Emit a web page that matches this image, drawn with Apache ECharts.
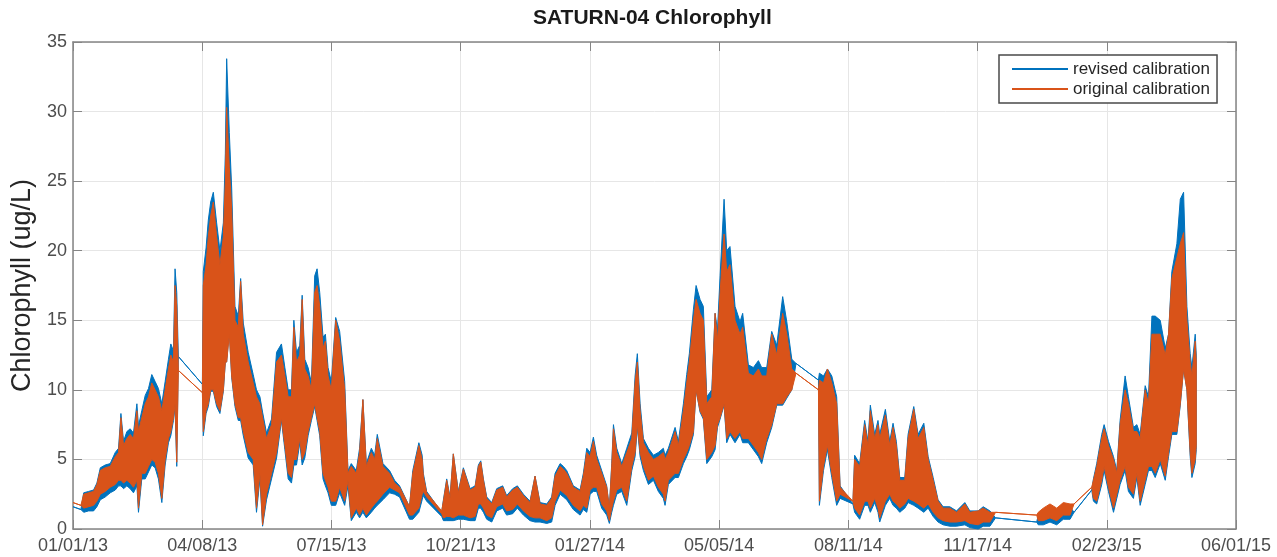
<!DOCTYPE html>
<html><head><meta charset="utf-8">
<script src="https://cdn.jsdelivr.net/npm/echarts@6/dist/echarts.min.js"></script>
<style>html,body{margin:0;padding:0;background:#fff}#c{width:1277px;height:557px}</style>
</head><body><div id="c"></div>
<script>
// x tick labels (ticks evenly spaced from 01/01/13 to 06/01/15)
const tickLabels = ['01/01/13','04/08/13','07/15/13','10/21/13','01/27/14','05/05/14','08/11/14','11/17/14','02/23/15','06/01/15'];
const yTicks = [0,5,10,15,20,25,30,35];

// sample positions: days since 01/01/13
const days = [
0,6,8.1,11.8,15.6,18.1,20.7,24.4,28.2,32,
34.5,36.3,38.3,40.8,43.3,45.8,48.4,49.6,52.1,54.7,
57.2,59.7,62.2,64.7,67.3,69.8,72.3,74.1,76.1,77.3,
78.6,79.8,98,98.7,100.8,102.5,104.3,106.3,108.8,111.3,
113.9,115.4,116.4,118.4,120.2,122.7,125.2,127,129,132.7,
136.5,139,141.6,143.6,146.6,150.4,154.2,157.9,160.5,163,
165.5,167.3,169.3,171.8,173.6,175.6,178.1,180.6,183.1,184.9,
186.9,189.4,191.2,193.2,195.7,199,202,205.8,208.3,210.8,
214.6,217.1,219.6,222.2,226,228.5,230.5,234.8,239.8,243.6,
247.4,254.9,257.4,262,264.5,265.4,267.9,279.3,280.6,283.1,
285.6,288.1,291.9,295.7,300.8,304.6,307.1,308.9,310.9,313.4,
317.2,321,325.5,328.5,333.1,336.6,341.2,346.2,350,353.8,
358.9,362.6,365.2,369,371.5,374,379,384.1,386.6,389.2,
391.7,394.2,396.7,400.5,404.3,406.3,408.1,409.4,411.9,415.7,
419.5,423.3,425.8,427.5,429.6,432.1,435.9,439.7,443.4,447.2,
448.5,451,456.1,458.6,462.4,464.9,466.9,470,472,475,
477.5,480.1,483.9,486.4,488.2,490.2,493.2,495.2,497.7,501.5,
505.3,507.3,511.6,515.4,519.2,521.7,525.5,529.3,533.1,537.6,
540.7,544.5,547.7,564.7,565.4,568.5,571.5,574.8,578.5,581.1,
590.8,592.1,595.9,599.7,602.2,604,607.3,609.8,611.1,615.4,
618.7,621.2,623.7,626.3,630.1,632.6,636.9,640.2,644.5,647.8,
651.6,655.3,659.1,664.2,669.3,675.6,679.4,685.7,689.5,694.6,
698.9,730,731.2,735,740.1,745.2,750.2,755.3,758.3,771.7,
773,775.5,779.3,781.1,784.4,788.2,790.7,793.2,797,799.5,
803.3,805.9,808.4,812.2,814.7,817.3,819.8,823.6,827.4,829.9,
832.4,836.2,838.8,841.3,843.8,846.3,847.6,850.1,850.9
];

// original calibration: upper and lower envelope of the tidal signal
const origHi = [
1.9,1.7,2.5,2.6,2.7,3.2,4.2,4.4,4.5,5.2,
5.5,8.0,6.0,6.5,6.8,6.5,8.5,7.0,8.0,9.0,
9.5,10.5,10.0,9.5,8.5,10.0,11.5,12.5,12.0,17.5,
16.0,11.4,9.8,17.5,19.0,21.0,22.5,23.5,21.0,19.0,
21.0,25.0,30.3,26.0,23.0,15.0,14.5,17.8,14.0,12.0,
10.5,9.5,9.0,8.0,6.5,7.5,12.0,12.5,11.0,9.5,
9.5,14.5,12.0,12.5,16.5,11.5,11.0,10.0,17.0,17.5,
16.0,13.0,13.5,11.0,10.0,15.0,13.5,10.0,4.0,4.5,
4.0,5.5,9.3,4.5,5.5,5.0,6.5,4.5,4.0,3.3,
3.0,1.6,4.0,6.0,5.0,3.8,2.6,1.3,2.0,3.5,
2.2,5.4,2.6,4.3,2.8,3.0,4.5,4.8,3.5,2.2,
1.8,2.8,3.0,2.3,2.8,3.0,2.4,1.9,3.8,1.8,
1.7,2.2,3.8,4.5,4.3,4.0,3.0,2.7,3.8,5.5,
5.2,6.3,5.0,4.0,3.0,1.5,4.5,7.2,5.5,4.5,
5.5,6.5,10.5,12.0,8.5,6.2,5.5,5.0,5.2,5.5,
5.0,5.5,7.0,6.0,8.5,10.5,12.0,15.0,16.5,15.5,
15.0,9.0,9.5,15.5,13.5,17.0,21.2,18.5,19.0,15.0,
14.0,14.5,11.2,11.0,11.5,11.0,11.0,14.0,12.5,15.5,
14.0,11.5,11.2,10.0,10.7,10.5,11.5,10.5,9.0,3.0,
2.0,5.0,4.5,7.5,6.0,8.5,6.5,7.5,6.5,8.2,
6.0,7.3,6.0,3.5,3.5,6.5,8.6,6.5,7.3,5.0,
3.5,2.0,1.5,1.5,1.2,1.8,1.2,1.3,1.5,1.2,
1.2,1.0,1.2,1.5,1.8,1.5,1.9,1.8,1.8,3.0,
3.5,4.5,6.5,7.2,6.0,5.0,4.0,7.5,10.0,9.0,
7.0,7.0,6.5,10.0,9.0,14.0,14.0,14.0,12.5,14.0,
18.0,19.5,20.5,21.3,15.0,12.0,11.0,13.5,12.0
];
const origLo = [
1.9,1.7,1.5,1.6,1.7,2.0,2.5,2.7,3.0,3.2,
3.5,3.5,3.3,3.5,3.3,3.0,3.5,1.5,4.0,4.0,
4.5,5.0,4.8,4.0,2.2,5.0,6.5,7.0,8.0,9.0,
4.8,11.4,9.8,7.0,8.5,9.0,10.0,10.0,9.0,8.5,
10.0,12.0,12.0,14.0,11.0,9.0,8.0,8.0,7.0,5.5,
5.0,1.5,4.0,0.3,2.5,4.0,5.5,8.0,6.0,4.0,
3.7,5.0,5.0,6.5,5.0,5.5,7.0,8.0,9.0,8.0,
7.0,4.0,3.5,3.0,2.0,2.0,3.0,2.0,3.5,0.8,
1.5,1.0,1.5,1.0,1.5,1.8,2.0,2.5,3.0,2.8,
2.6,1.0,1.0,1.5,2.5,2.7,2.3,1.1,0.8,0.9,
0.9,0.8,1.0,1.0,0.8,0.9,1.8,1.8,1.5,1.0,
0.8,1.6,1.8,1.3,1.4,1.8,1.3,0.9,0.8,0.8,
0.6,0.8,2.0,2.8,2.6,2.4,1.7,1.3,1.7,1.5,
2.8,3.0,3.0,1.8,1.3,0.6,1.5,2.0,2.8,3.0,
2.0,4.5,5.5,7.5,5.5,4.5,3.5,3.8,3.0,2.5,
2.0,3.5,4.0,4.0,5.0,5.5,6.0,7.0,10.0,8.5,
8.0,5.0,5.5,6.0,7.5,8.0,9.0,6.5,7.0,6.5,
7.0,6.5,6.5,6.0,5.5,5.0,6.5,7.5,9.0,9.0,
9.5,10.0,11.2,10.0,2.0,4.5,6.0,4.0,2.0,2.5,
2.0,1.5,1.0,2.0,2.0,1.5,2.2,1.5,0.8,2.0,
2.5,2.0,1.8,1.5,1.8,2.2,2.0,1.8,1.5,1.8,
1.2,0.8,0.6,0.5,0.5,0.6,0.4,0.3,0.5,0.5,
1.2,1.0,0.6,0.6,0.8,0.6,1.0,1.0,1.8,3.0,
2.2,2.0,3.5,4.5,3.0,1.5,2.5,3.5,4.5,3.0,
2.5,4.0,2.0,3.5,4.5,4.5,4.0,5.0,3.8,5.5,
7.0,7.0,9.0,11.5,10.0,5.5,4.0,5.0,6.0
];

// revised calibration: upper and lower envelope
const revHi = [
1.6,1.4,2.6,2.7,2.8,3.3,4.4,4.6,4.7,5.5,
5.8,8.3,6.3,7.0,7.2,6.9,9.0,7.4,8.5,9.6,
10.1,11.1,10.6,10.1,9.0,10.6,12.2,13.3,12.8,18.7,
17.0,12.4,10.4,18.5,20.2,22.2,23.5,24.2,22.0,20.0,
22.0,27.0,33.8,28.5,24.5,16.0,15.3,18.0,14.8,12.7,
11.1,10.0,9.5,8.4,6.9,7.9,12.7,13.3,11.6,10.0,
10.0,15.0,12.7,13.2,16.8,12.2,11.6,10.5,18.2,18.7,
17.0,13.8,14.0,11.6,10.6,15.2,14.2,10.6,4.2,4.7,
4.2,5.8,9.3,4.7,5.8,5.3,6.8,4.7,4.2,3.5,
3.1,1.6,4.2,6.2,5.3,4.0,2.7,1.2,2.1,3.6,
2.3,5.4,2.7,4.4,2.9,3.1,4.6,4.9,3.6,2.3,
1.9,2.9,3.1,2.4,2.9,3.1,2.5,2.0,3.8,1.9,
1.8,2.3,4.0,4.7,4.5,4.2,3.1,2.8,4.0,5.8,
5.5,6.6,5.3,4.2,3.1,1.5,4.7,7.5,5.8,4.7,
5.8,6.9,11.0,12.6,9.0,6.5,5.8,5.3,5.5,5.8,
5.3,5.8,7.3,6.3,9.0,11.1,12.6,15.8,17.5,16.5,
16.0,9.5,10.0,15.5,14.3,18.2,23.7,20.0,20.3,16.0,
14.9,15.5,11.8,11.6,12.1,11.6,11.6,14.2,13.2,16.7,
14.9,12.2,11.9,10.7,11.2,11.0,11.5,11.0,9.5,3.1,
1.8,5.3,4.7,7.8,6.3,8.9,6.8,7.8,6.8,8.6,
6.3,7.6,6.3,3.7,3.7,6.8,8.8,6.8,7.6,5.2,
3.7,2.1,1.6,1.6,1.3,1.9,1.3,1.3,1.6,1.3,
0.8,0.5,1.0,1.3,1.6,1.3,1.7,1.6,1.2,2.8,
3.6,4.7,6.8,7.5,6.3,5.2,4.2,7.8,11.0,9.5,
7.3,7.5,6.8,10.3,9.5,15.3,15.3,15.0,13.0,14.0,
18.5,20.5,23.7,24.2,16.0,12.6,11.6,14.0,12.5
];
const revLo = [
1.6,1.4,1.2,1.3,1.3,1.6,2.1,2.3,2.6,2.8,
3.1,3.1,2.9,3.1,2.9,2.6,3.1,1.2,3.6,3.6,
4.1,4.6,4.4,3.6,1.9,4.6,6.2,6.7,7.8,8.8,
4.5,12.4,10.4,6.7,8.3,8.8,9.9,9.9,8.8,8.3,
9.9,12.0,12.0,14.2,10.9,8.8,7.8,7.8,6.7,5.1,
4.6,1.2,3.6,0.2,2.1,3.6,5.1,7.8,5.7,3.6,
3.3,4.6,4.6,6.2,4.6,5.1,6.7,7.8,8.8,7.8,
6.7,3.6,3.1,2.6,1.7,1.7,2.6,1.7,3.1,0.6,
1.2,0.8,1.2,0.8,1.2,1.5,1.7,2.1,2.6,2.5,
2.3,0.7,0.7,1.2,2.1,2.4,2.0,0.9,0.6,0.6,
0.6,0.6,0.7,0.7,0.6,0.6,1.5,1.5,1.2,0.7,
0.5,1.3,1.5,1.0,1.1,1.5,1.0,0.6,0.5,0.5,
0.4,0.5,1.7,2.5,2.3,2.1,1.4,1.0,1.4,1.2,
2.5,2.7,2.7,1.5,1.0,0.4,1.2,1.7,2.5,2.7,
1.7,4.2,5.2,7.3,5.2,4.2,3.2,3.5,2.7,2.2,
1.7,3.2,3.7,3.7,4.7,5.2,5.7,6.8,10.0,8.4,
7.9,4.7,5.2,5.7,7.3,7.9,8.9,6.2,6.8,6.2,
6.8,6.2,6.2,5.7,5.2,4.7,6.2,7.3,8.9,8.9,
9.4,10.0,11.9,10.7,1.7,4.2,5.7,3.7,1.7,2.2,
1.8,1.2,0.7,1.7,1.7,1.2,1.9,1.2,0.5,1.7,
2.2,1.7,1.5,1.2,1.5,1.9,1.7,1.5,1.2,1.5,
0.9,0.5,0.3,0.2,0.2,0.3,0.1,0.0,0.2,0.2,
0.8,0.5,0.3,0.3,0.5,0.3,0.7,0.7,1.2,2.8,
2.0,1.8,3.2,4.2,2.7,1.2,2.2,3.2,4.2,2.7,
2.2,3.7,1.7,3.2,4.2,4.2,3.7,4.7,3.5,5.2,
6.8,6.8,8.9,11.5,10.0,5.2,3.7,4.7,5.7
];

const X_MAX = 881;           // 06/01/15 in days since 01/01/13
const X_STEP = X_MAX / 9;
const BLUE = '#0072BD', ORANGE = '#D95319';
const AX = '#858585', GRID = '#e6e6e6';
const FONT = '"Liberation Sans", Arial, Helvetica, sans-serif';

// band between the upper and lower envelope, drawn through the cartesian scales
function bandSeries(name, color, hi, lo){
  return {
    name, type:'custom', coordinateSystem:'cartesian2d', silent:true,
    itemStyle:{color},
    data: days.map((d,i)=>[d, hi[i], lo[i]]),
    encode:{x:0, y:[1,2]},
    renderItem:function(params, api){
      if (params.dataIndex !== 0) return;
      const pts = [];
      for (let i = 0; i < days.length; i++) pts.push(api.coord([days[i], hi[i]]));
      for (let i = days.length - 1; i >= 0; i--) pts.push(api.coord([days[i], lo[i]]));
      return {type:'polygon', shape:{points:pts},
        style:{fill:color, stroke:color, lineWidth:1, lineJoin:'miter'}};
    }
  };
}

const axisLine = {show:true, onZero:false, lineStyle:{color:AX, width:1.5}};
const tickIn = {show:true, inside:true, length:9, lineStyle:{color:AX, width:1}};
const labelStyle = {fontSize:18, color:'#4d4d4d', fontFamily:FONT};

const chart = echarts.init(document.getElementById('c'), null, {renderer:'canvas'});
chart.setOption({
  animation:false,
  backgroundColor:'#ffffff',
  title:{text:'SATURN-04 Chlorophyll', left:533, top:8, padding:0,
    textStyle:{fontSize:21, fontWeight:'bold', color:'#1a1a1a', fontFamily:FONT}},
  legend:{
    orient:'vertical', left:999, top:55,
    padding:[4,7,4,13], itemGap:0, itemWidth:56, itemHeight:2,
    backgroundColor:'#ffffff', borderColor:'#4a4a4a', borderWidth:1.5, borderRadius:0,
    textStyle:{fontSize:17, color:'#262626', fontFamily:FONT, lineHeight:20},
    data:[
      {name:'revised calibration', icon:'rect', itemStyle:{color:BLUE}},
      {name:'original calibration', icon:'rect', itemStyle:{color:ORANGE}}
    ]
  },
  grid:{left:73, right:41, top:42, bottom:28, containLabel:false},
  xAxis:[
    {type:'value', min:0, max:X_MAX, interval:X_STEP, position:'bottom',
     axisLine, axisTick:tickIn,
     axisLabel:Object.assign({margin:8, showMinLabel:true, showMaxLabel:true,
       formatter:(v)=>tickLabels[Math.round(v/X_STEP)]}, labelStyle),
     splitLine:{show:true, lineStyle:{color:GRID, width:1}}},
    {type:'value', min:0, max:X_MAX, interval:X_STEP, position:'top',
     axisLine, axisTick:tickIn, axisLabel:{show:false}, splitLine:{show:false}}
  ],
  yAxis:[
    {type:'value', min:yTicks[0], max:yTicks[yTicks.length-1], interval:yTicks[1]-yTicks[0], position:'left',
     axisLine, axisTick:tickIn,
     axisLabel:Object.assign({margin:6}, labelStyle),
     splitLine:{show:true, lineStyle:{color:GRID, width:1}},
     name:'Chlorophyll (ug/L)', nameLocation:'middle', nameGap:36,
     nameTextStyle:{fontSize:27, color:'#262626', fontFamily:FONT}},
    {type:'value', min:yTicks[0], max:yTicks[yTicks.length-1], interval:yTicks[1]-yTicks[0], position:'right',
     axisLine, axisTick:tickIn, axisLabel:{show:false}, splitLine:{show:false}}
  ],
  series:[
    bandSeries('revised calibration', BLUE, revHi, revLo),
    bandSeries('original calibration', ORANGE, origHi, origLo)
  ]
});
</script>
</body></html>
